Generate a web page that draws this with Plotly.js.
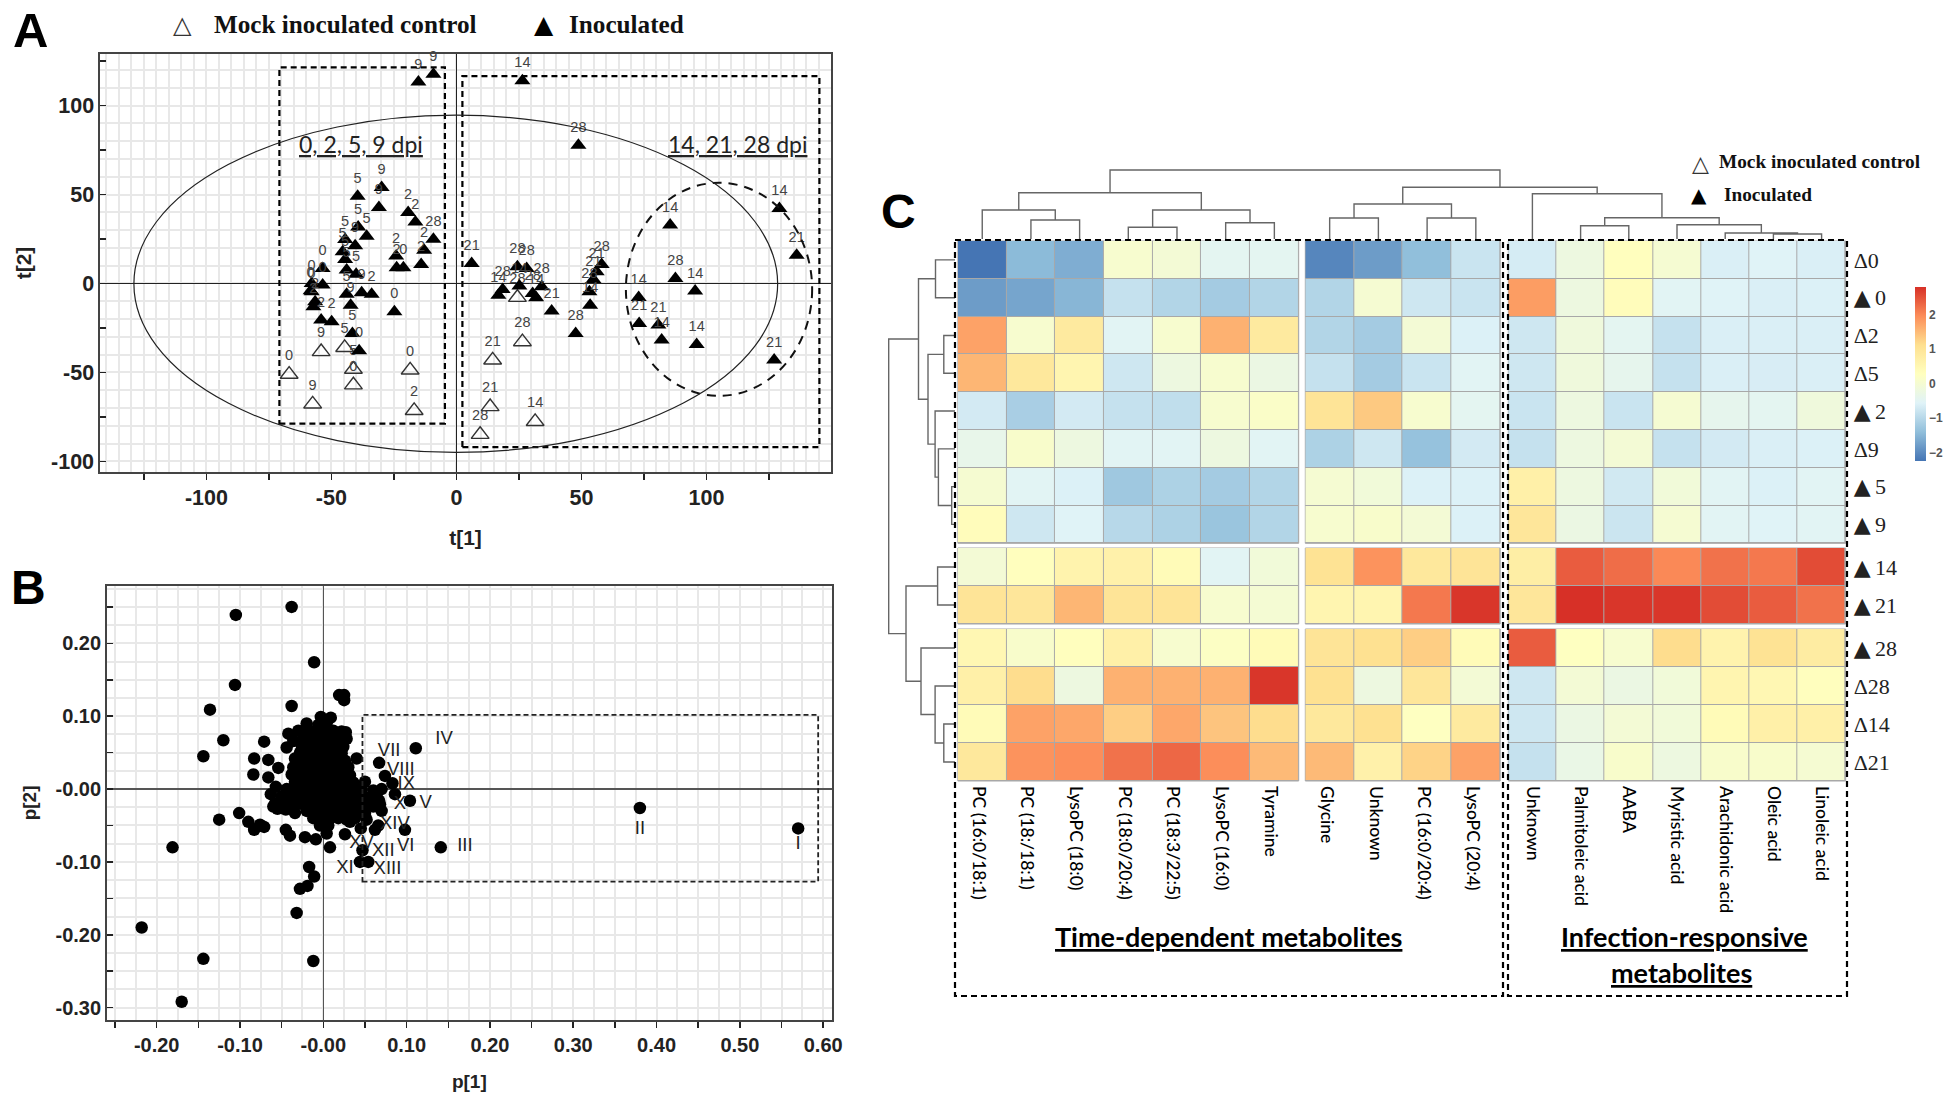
<!DOCTYPE html>
<html><head><meta charset="utf-8">
<script src="https://cdn.plot.ly/plotly-3.0.1.min.js"></script>
<style>html,body{margin:0;padding:0;background:#fff}</style></head>
<body><div id="chart" style="width:1955px;height:1106px"></div>
<script>
// ---------- Panel A : score plot  [t1, t2, day label]
const scoresInoculated = [
[-15.2,113.3,"9"],[-9.2,117.6,"9"],[-39.5,49,"5"],[-29.9,53.9,"9"],[-31,42.7,"9"],[-19.3,39.9,"2"],[-16.4,34.5,"2"],
[-9.2,24.9,"28"],[-12.9,18.7,"2"],[-14.1,10.7,"2"],[-39.3,31.8,"5"],[-35.9,26.6,"5"],[-44.5,24.7,"5"],[-40.5,21.2,"9"],
[-45.5,17.8,"5"],[-44.5,13.5,"5"],[-43.9,7.5,"5"],[-40.1,5.2,"5"],[-24.1,15.4,"2"],[-23.9,8.8,"2"],[-21.2,8.8,"0"],
[-53.5,8.4,"0"],[-53.5,-0.9,"0"],[-57.9,0,"0"],[-58.3,-4.1,"0"],[-57.9,-4.7,"0"],[-56.5,-10.3,"2"],[-57.2,-13.1,"2"],
[-54.1,-20.6,"2"],[-49.9,-21.5,"2"],[-43.9,-6,"5"],[-42.3,-12.2,"9"],[-37.9,-5.2,"9"],[-33.9,-6,"2"],[-24.8,-15.9,"0"],
[-41.6,-28.1,"5"],[-38.9,-37.8,"0"],
[26.4,113.9,"14"],[48.8,77.7,"28"],[6.1,11.2,"21"],[24.4,9.4,"28"],[28.1,8.4,"28"],[18.5,-3.4,"28"],[16.8,-6.6,"14"],
[25.2,-1.5,"14"],[30.5,-5.6,"28"],[31.9,-8,"14"],[34.1,-1.9,"28"],[38.1,-15.5,"21"],[58.1,10.7,"28"],[56.1,6.6,"21"],
[54.8,2.2,"21"],[53.2,-4.7,"28"],[53.5,-12.2,"14"],[47.7,-28.1,"28"],[85.5,32.8,"14"],[87.6,2.8,"28"],[95.5,-4.3,"14"],
[129.2,42.1,"14"],[136.1,15.9,"21"],[72.9,-7.9,"14"],[73.1,-22.5,"21"],[80.8,-23.4,"21"],[82.1,-31.8,"14"],[96.1,-34.3,"14"],
[127.1,-43.1,"21"]];
const scoresMock = [
[-44.7,-36.1,"5"],[-54.1,-38.4,"9"],[-41.2,-48.3,"5"],[-41.2,-57.1,"0"],[-66.9,-51.1,"0"],[-57.5,-67.8,"9"],[-18.5,-48.7,"0"],
[-16.9,-71.5,"2"],[24.4,-7.9,"28"],[26.4,-32.8,"28"],[14.5,-43.1,"21"],[13.5,-69.3,"21"],[9.5,-84.9,"28"],[31.5,-77.7,"14"]];
const scoreTicksX = [-125,-100,-75,-50,-25,0,25,50,75,100,125];
const scoreLabelsX = ["","-100","","-50","","0","","50","","100",""];
const scoreTicksY = [-100,-75,-50,-25,0,25,50,75,100,125];
const scoreLabelsY = ["-100","","-50","","0","","50","","100",""];

// ---------- Panel B : loading plot  [p1, p2]
const loadingsOuter = [
[-.105,.239],[-.038,.25],[-.011,.174],[-.106,.143],[-.136,.109],[-.12,.067],[-.144,.045],[-.038,.114],[.019,.129],[.025,.129],[.025,.122],
[-.071,.065],[-.083,.042],[-.066,.04],[-.054,.029],[-.084,.02],[-.066,.016],[-.057,.003],[-.063,-.007],[-.125,-.042],[-.101,-.033],
[-.09,-.045],[-.083,-.056],[-.076,-.049],[-.071,-.052],[-.181,-.08],[-.218,-.19],[-.144,-.233],[-.17,-.292],[-.012,-.236],[-.032,-.17],
[-.028,-.137],[-.019,-.133],[-.011,-.12],[-.017,-.107],[.008,-.08],[-.009,-.069],[-.022,-.066],[-.04,-.064],[-.045,-.056],[.026,-.062],
[.004,-.061],[.044,-.1],[.054,-.1],[.047,-.084],[.098,-.056],[.062,-.056],[.066,-.05],[.052,-.042],[.045,-.054],[.032,-.045],[.07,-.03],
[.068,-.021],[.104,-.016],[.086,-.007],[.083,.008],[.074,.018],[.067,.036],[.111,.056],[.141,-.08],[.38,-.026],[.57,-.054]];
const loadingsCore = [
[-.003,.099],[.009,.098],[-.02,.09],[-.006,.088],[.004,.09],[-.03,.08],[-.018,.081],[-.008,.08],[.002,.079],[.012,.08],[.022,.079],[.027,.078],
[-.042,.076],[-.036,.066],[-.024,.07],[-.014,.071],[-.004,.07],[.006,.07],[.016,.069],[.028,.069],[-.044,.057],[-.026,.06],[-.016,.061],[-.006,.06],
[.004,.06],[.014,.059],[.024,.058],[-.028,.05],[-.018,.051],[-.008,.05],[.002,.05],[.012,.05],[.022,.049],[-.034,.042],[-.024,.04],[-.014,.041],
[-.004,.04],[.006,.04],[.016,.04],[.026,.039],[.04,.042],[-.036,.03],[-.026,.03],[-.016,.031],[-.006,.03],[.004,.03],[.014,.03],[.024,.03],[.03,.03],
[-.038,.02],[-.028,.02],[-.018,.021],[-.008,.02],[.002,.02],[.012,.02],[.022,.02],[.032,.019],[-.034,.01],[-.024,.01],[-.014,.011],[-.004,.01],
[.006,.01],[.016,.01],[.026,.01],[.036,.009],[.05,.01],[-.044,0],[-.034,0],[-.024,.001],[-.014,0],[-.004,0],[.006,0],[.016,0],[.026,0],[.036,.001],
[.046,0],[.07,0],[.06,-.002],[-.05,-.01],[-.04,-.01],[-.03,-.009],[-.02,-.01],[-.01,-.01],[0,-.01],[.01,-.01],[.02,-.01],[.03,-.01],[.04,-.011],[.052,-.012],
[-.058,-.02],[-.048,-.02],[-.038,-.019],[-.028,-.02],[-.018,-.02],[-.008,-.02],[.002,-.02],[.012,-.02],[.022,-.021],[.032,-.02],[.042,-.02],[.052,-.021],
[-.05,-.026],[-.034,-.033],[-.02,-.03],[-.01,-.03],[0,-.03],[.01,-.03],[.02,-.03],[.03,-.031],[.04,-.03],[-.012,-.04],[-.002,-.041],[.008,-.04],[.018,-.04],[-.004,-.05],[.006,-.05],
[.058,-.014],[.064,-.008],[.06,-.024],[.05,-.034],[.038,-.04],[.028,-.042],[.045,-.028],[.067,-.016],[-.06,-.024],[-.055,-.027],[-.045,-.028]];
const loadingNames = [
[.145,.068,"IV"],[.079,.052,"VII"],[.093,.026,"VIII"],[.0996,.007,"IX"],[.092,-.0215,"X"],[.123,-.02,"V"],[.086,-.049,"XIV"],[.099,-.078,"VI"],
[.046,-.075,"XV"],[.072,-.085,"XII"],[.026,-.1085,"XI"],[.077,-.11,"XIII"],[.17,-.078,"III"],[.38,-.056,"II"],[.57,-.076,"I"]];
const loadTicksX = [-.25,-.2,-.15,-.1,-.05,0,.05,.1,.15,.2,.25,.3,.35,.4,.45,.5,.55,.6];
const loadLabelsX = ["","-0.20","","-0.10","","-0.00","","0.10","","0.20","","0.30","","0.40","","0.50","","0.60"];
const loadTicksY = [-.3,-.25,-.2,-.15,-.1,-.05,0,.05,.1,.15,.2,.25];
const loadLabelsY = ["-0.30","","-0.20","","-0.10","","-0.00","","0.10","","0.20",""];

// ---------- Panel C : heat map
const rowsA = ["Δ0","▲0","Δ2","Δ5","▲2","Δ9","▲5","▲9"];
const rowsB = ["▲14","▲21"];
const rowsC = ["▲28","Δ28","Δ14","Δ21"];
const colsA = ["PC (16:0/18:1)","PC (18:/18:1)","LysoPC (18:0)","PC (18:0/20:4)","PC (18:3/22:5)","LysoPC (16:0)","Tyramine"];
const colsB = ["Glycine","Unknown","PC (16:0/20:4)","LysoPC (20:4)"];
const colsC = ["Unknown","Palmitoleic acid","AABA","Myristic acid","Arachidonic acid","Oleic acid","Linoleic acid"];
const heatColsA = [
[-2.3,-1.45,-1.6,.05,-.05,-.45,-.45],[-1.8,-1.7,-1.5,-.85,-1.05,-1.2,-1.05],[1.75,.05,.85,-.5,.05,1.6,.85],[1.55,.9,.55,-.75,-.2,.05,-.25],
[-.7,-1.15,-.7,-.85,-.9,.05,.15],[-.35,.1,-.2,-.5,-.5,-.2,-.5],[.02,-.5,-.6,-1.25,-1.1,-1.2,-1.05],[.35,-.75,-.55,-1,-1.1,-1.3,-1.05],
[-.05,.3,.6,.65,.4,-.5,-.1],[1,.95,1.55,1,1,.05,-.02],
[.5,.1,.3,.7,.05,.2,.4],[.7,1.15,-.2,1.6,1.6,1.6,2.75],[.4,1.75,1.7,1.3,1.7,1.4,1.15],[.9,1.9,1.95,2.2,2.3,1.95,1.5]];
const heatColsB = [
[-2.05,-1.8,-1.4,-.8],[-1.05,0,-.75,-.8],[-1.05,-1.2,-.05,-.6],[-.85,-1.2,-.8,-.5],[1,1.35,.05,-.45],[-1.1,-.75,-1.35,-.7],[0,-.1,-.6,-.6],[.05,.1,-.05,-.6],
[1.05,1.9,.9,1],[.55,.55,2.15,2.75],
[1,1.1,1.3,.4],[1.1,-.2,.95,-.05],[.9,1.1,.25,.85],[1.5,.65,1.25,1.75]];
const heatColsC = [
[-.68,-.2,.3,0,-.62,-.55,-.62],[1.8,-.2,.35,-.5,-.55,-.62,-.6],[-.75,-.15,-.45,-.85,-.62,-.62,-.62],[-.75,-.15,-.4,-.85,-.62,-.65,-.62],
[-.8,-.2,-.8,0,-.4,-.45,-.15],[-.85,-.2,-.05,-.85,-.7,-.62,-.6],[.7,-.2,-.72,-.1,-.5,-.6,-.5],[.95,-.25,-.78,0,-.5,-.55,-.5],
[.75,2.4,2.25,2,2.2,2.15,2.55],[.95,2.8,2.75,2.75,2.55,2.4,2.2],
[2.4,.25,.05,1.15,.6,1.05,.8],[-.75,-.05,-.25,-.1,.55,.5,.3],[-.75,-.25,-.05,-.1,.4,.7,.7],[-.85,-.3,.1,-.2,.1,.1,0]];
const heatScale = [[0,"#4575B4"],[1/6,"#91BFDB"],[2/6,"#E0F3F8"],[3/6,"#FFFFBF"],[4/6,"#FEE090"],[5/6,"#FC8D59"],[1,"#D73027"]];

// ---------- page geometry (pixels of the 1955x1106 page)
const W=1955,H=1106;
const fx=p=>p/W, fy=p=>1-p/H;
const domX=(a,b)=>[fx(a),fx(b)], domY=(top,bot)=>[fy(bot),fy(top)];
const colSpans=[[957.9,1298.7],[1305.3,1500.2],[1508.3,1845.7]];
const rowSpans=[[241,543.3],[548,624],[629,781]];
const colLabelShift=[-4,-3,0];
const SANS="Liberation Sans", SERIF="Liberation Serif", CAL="Lato";
const rowTick=s=>s.replace("▲","<span style='font-family:DejaVu Sans;font-size:22px'>▲</span>\u2009");

// ---------- traces
const tri=(rows,open,name,xa,ya)=>({type:"scatter",mode:"markers+text",name,xaxis:xa,yaxis:ya,x:rows.map(r=>r[0]),y:rows.map(r=>r[1]),text:rows.map(r=>r[2]),
 textposition:"top center",textfont:{family:SANS,size:14.5,color:"#444"},cliponaxis:false,
 marker:open?{symbol:"triangle-up-open",size:15.5,color:"#333",line:{width:1.4,color:"#333"}}:{symbol:"triangle-up",size:14,color:"#000"}});
const traces=[tri(scoresMock,true,"Mock inoculated control","x","y"),tri(scoresInoculated,false,"Inoculated","x","y")];
traces.push({type:"scatter",mode:"markers",xaxis:"x2",yaxis:"y2",marker:{size:12.5,color:"#000"},
  x:loadingsOuter.concat(loadingsCore).map(r=>r[0]),y:loadingsOuter.concat(loadingsCore).map(r=>r[1])});
traces.push({type:"scatter",mode:"text",xaxis:"x2",yaxis:"y2",x:loadingNames.map(r=>r[0]),y:loadingNames.map(r=>r[1]),text:loadingNames.map(r=>r[2]),
  textposition:"middle center",textfont:{family:SANS,size:18.5,color:"#222"}});
const rowGroups=[rowsA,rowsB,rowsC], colGroups=[colsA,colsB,colsC], heatGroups=[heatColsA,heatColsB,heatColsC];
let rowOffset=0;
rowGroups.forEach((rows,ri)=>{
  colGroups.forEach((cols,ci)=>{
    traces.push({type:"heatmap",x:cols,y:rows,z:heatGroups[ci].slice(rowOffset,rowOffset+rows.length),xaxis:"x"+(ci+3),yaxis:"y"+(ri+3),
      zmin:-2.24,zmax:2.8,colorscale:heatScale,xgap:1,ygap:1,hoverongaps:false,showscale:ri===0&&ci===0,
      colorbar:{x:fx(1915),xanchor:"left",y:fy(287),yanchor:"top",lenmode:"pixels",len:174,thickness:11,xpad:0,ypad:0,outlinewidth:0,
        tickvals:[-2,-1,0,1,2],ticks:"",tickfont:{family:SANS,size:12,color:"#555",weight:"bold"},ticklabelposition:"outside"}});
  });
  rowOffset+=rows.length;
});

// ---------- axes
const gridC="#e8e8e8";
const frameAxis=(extra)=>Object.assign({showline:true,linecolor:"#444",linewidth:1.6,mirror:true,zeroline:true,zerolinecolor:"#222",zerolinewidth:1.6,
  tickmode:"array",tickcolor:"#222",tickwidth:1.5,ticklen:6,showgrid:false,tickfont:{family:SANS,size:20,color:"#222",weight:"bold"},fixedrange:true},extra);
const minorGrid=d=>({tickmode:"linear",tick0:0,dtick:d,showgrid:true,gridcolor:gridC,gridwidth:2});
const layout={width:W,height:H,margin:{l:0,r:0,t:0,b:0,pad:0},paper_bgcolor:"#fff",plot_bgcolor:"#fff",showlegend:false,hovermode:false,
 xaxis:frameAxis({domain:domX(100,831),anchor:"y",range:[-142.56,149.84],tickvals:scoreTicksX,ticktext:scoreLabelsX,ticks:"outside",
   minor:minorGrid(5),
   title:{text:"<b>t[1]</b>",standoff:21,font:{family:SANS,size:21,color:"#222"}},tickfont:{family:SANS,size:21.5,color:"#222",weight:"bold"}}),
 yaxis:frameAxis({domain:domY(54,472),anchor:"x",range:[-106,129],tickvals:scoreTicksY,ticktext:scoreLabelsY,ticks:"inside",
   minor:minorGrid(10),
   title:{text:"<b>t[2]</b>",standoff:14,font:{family:SANS,size:21,color:"#222"}},tickfont:{family:SANS,size:21.5,color:"#222",weight:"bold"}}),
 xaxis2:frameAxis({domain:domX(106.7,832),anchor:"y2",range:[-.26,.6106],tickvals:loadTicksX,ticktext:loadLabelsX,ticks:"outside",zerolinecolor:"#555",
   minor:minorGrid(.025),
   title:{text:"<b>p[1]</b>",standoff:20,font:{family:SANS,size:19,color:"#222"}}}),
 yaxis2:frameAxis({domain:domY(585.8,1020),anchor:"x2",range:[-.317,.279],tickvals:loadTicksY,ticktext:loadLabelsY,ticks:"inside",zerolinecolor:"#555",
   minor:minorGrid(.025),
   title:{text:"<b>p[2]</b>",standoff:14,font:{family:SANS,size:19,color:"#222"}}})
};
colSpans.forEach((s,i)=>{layout["xaxis"+(i+3)]={domain:domX(s[0],s[1]),anchor:"y5",type:"category",showgrid:false,zeroline:false,ticks:"",showline:false,tickangle:90,
  ticklabelstandoff:4,ticklabelshift:colLabelShift[i],fixedrange:true,tickfont:{family:CAL,size:17.5,color:"#000",weight:500}};});
rowSpans.forEach((s,i)=>{layout["yaxis"+(i+3)]={domain:domY(s[0],s[1]),anchor:"x5",side:"right",type:"category",autorange:"reversed",showgrid:false,zeroline:false,ticks:"",showline:false,
  tickmode:"array",tickvals:rowGroups[i],ticktext:rowGroups[i].map(rowTick),
  ticklabelstandoff:7,ticklabelshift:-2.5,fixedrange:true,tickfont:{family:SERIF,size:22,color:"#222"}};});

// ---------- dendrograms: trees of leaf indices with a merge level in page pixels
const colCenters=[];colSpans.forEach((s,i)=>{const n=colGroups[i].length;for(let k=0;k<n;k++)colCenters.push(s[0]+(k+.5)*(s[1]-s[0])/n);});
const rowCenters=[];rowSpans.forEach((s,i)=>{const n=rowGroups[i].length;for(let k=0;k<n;k++)rowCenters.push(s[0]+(k+.5)*(s[1]-s[0])/n);});
const topTree=[[[0,[1,2,220],210],[[3,4,227.3],[5,6,222.7],210],192.7],
  [[[7,8,218],[9,10,218],204],[11,[[12,13,225.7],[14,[15,[16,17,234],233],224.7],217.7],193.7],187.3],170];
const leftTree=[[[0,1,935.5],[[2,3,943.8],[4,[5,[6,7,951.7],938.4],935.1],928],918.5],
  [[8,9,937.6],[10,[11,[12,13,943.8],935.1],921],906],888.7];
function treePath(node,centers,base,horizontalLeaves){
  const segs=[];
  (function walk(n){
    if(typeof n==="number")return [centers[n],base];
    const a=walk(n[0]),b=walk(n[1]),lv=n[2];
    const P=(pos,lev)=>horizontalLeaves?`${fx(pos)},${fy(lev)}`:`${fx(lev)},${fy(pos)}`;
    segs.push(`M${P(a[0],a[1])}L${P(a[0],lv)}L${P(b[0],lv)}L${P(b[0],b[1])}`);
    return [(a[0]+b[0])/2,lv];
  })(node);
  return segs.join("");
}
const dash={color:"#000",width:2.2,dash:"6px,4px"};
const rectShape=(xref,yref,x0,x1,y0,y1,line)=>({type:"rect",xref,yref,x0,x1,y0,y1,line,layer:"above"});
layout.shapes=[
 {type:"path",xref:"paper",yref:"paper",path:treePath(topTree,colCenters,239,true),line:{color:"#666",width:1.4}},
 {type:"path",xref:"paper",yref:"paper",path:treePath(leftTree,rowCenters,955,false),line:{color:"#666",width:1.4}},
 rectShape("paper","paper",fx(955),fx(1503),fy(240),fy(996),dash),
 rectShape("paper","paper",fx(1508),fx(1847),fy(240),fy(996),dash),
 rectShape("x","y",-70.8,-4.6,-78.8,121.5,dash),
 rectShape("x","y",2.4,145.2,-92,116.6,dash),
 {type:"circle",xref:"x",yref:"y",x0:67.8,x1:142.3,y0:-63.2,y1:56.6,line:{color:"#111",width:2,dash:"9px,7px"},layer:"above"},
 {type:"circle",xref:"x",yref:"y",x0:-129,x1:128.5,y0:-95,y1:94.6,line:{color:"#222",width:1.2},layer:"above"},
 rectShape("x2","y2",.047,.594,-.127,.1017,{color:"#222",width:1.8,dash:"5px,3px"})
];
for(let ci=0;ci<3;ci++)for(let ri=0;ri<3;ri++){
  layout.shapes.push({type:"rect",xref:`x${ci+3} domain`,yref:`y${ri+3} domain`,x0:0,x1:1,y0:0,y1:1,layer:"below",fillcolor:"#a8a8a8",line:{color:"#a8a8a8",width:1}});
}

// ---------- text
const note=(t,x,y,size,family,extra={},anchor="center")=>Object.assign({xref:"paper",yref:"paper",x:fx(x),y:fy(y),text:t,showarrow:false,xanchor:anchor,yanchor:"middle",
  font:Object.assign({family,size,color:"#111"},extra)});
layout.annotations=[
 note("<b>A</b>",30,30,49,SANS,{color:"#000"}),
 note("<b>B</b>",28,588,48,SANS,{color:"#000"}),
 note("<b>C</b>",898,212,48,SANS,{color:"#000"}),
 note("△",182,25,24,"DejaVu Sans",{color:"#333"}),
 note("<b>Mock inoculated control</b>",212,24,25.2,SERIF,{},"left"),
 note("▲",544,24,25,"DejaVu Sans",{color:"#000"}),
 note("<b>Inoculated</b>",567,24,25.2,SERIF,{},"left"),
 note("△",1700,163,22,"DejaVu Sans",{color:"#333"}),
 note("<b>Mock inoculated control</b>",1717,161.5,19.3,SERIF,{},"left"),
 note("▲",1699,195,20,"DejaVu Sans",{color:"#000"}),
 note("<b>Inoculated</b>",1722,194,19.3,SERIF,{},"left"),
 note("0, 2, 5, 9 dpi",360.6,144,23,CAL,{lineposition:"under",color:"#222"}),
 note("14, 21, 28 dpi",737.8,144,23,CAL,{lineposition:"under",color:"#222"}),
 note("<b>Time-dependent metabolites</b>",1228,937,27,CAL,{lineposition:"under",color:"#000"}),
 note("<b>Infection-responsive</b>",1684,937,27,CAL,{lineposition:"under",color:"#000"}),
 note("<b>metabolites</b>",1681,972,27,CAL,{lineposition:"under",color:"#000"})
];
Plotly.newPlot("chart",traces,layout,{displayModeBar:false,staticPlot:true});
</script></body></html>
